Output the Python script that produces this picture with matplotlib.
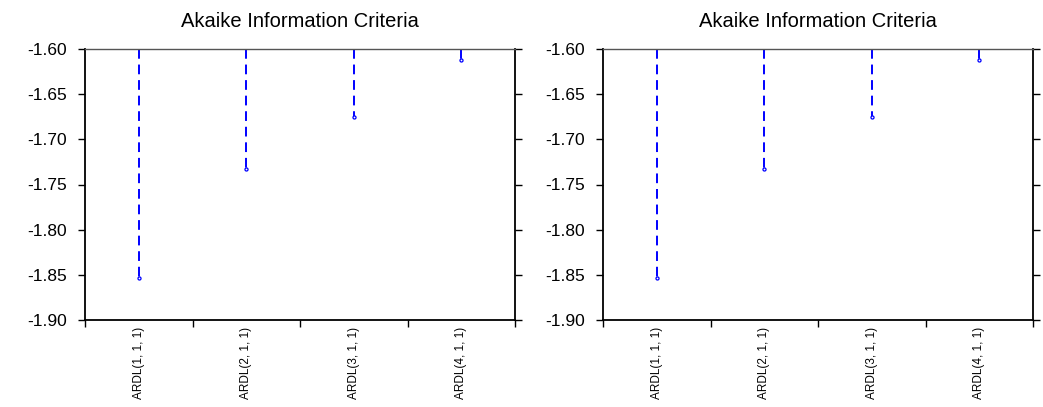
import numpy as np
import matplotlib
matplotlib.use("Agg")
import matplotlib.pyplot as plt

plt.rcParams['font.family'] = ['Liberation Sans', 'DejaVu Sans']

# data
models = ["ARDL(1, 1, 1)", "ARDL(2, 1, 1)", "ARDL(3, 1, 1)", "ARDL(4, 1, 1)"]
aic = [-1.8535, -1.7330, -1.6755, -1.6122]
yticks = [-1.60, -1.65, -1.70, -1.75, -1.80, -1.85, -1.90]

fig = plt.figure(figsize=(10.43, 4.07), dpi=100)
lefts = [85 / 1043, 603 / 1043]

for lft in lefts:
    ax = fig.add_axes([lft, 87 / 407, 430 / 1043, 271 / 407])
    x = np.arange(len(models))
    ax.vlines(x, -1.60, aic, colors="#0000ff", linestyles=(0, (5, 3)), linewidth=1.4)
    ax.plot(x, aic, linestyle="none", marker="o", markersize=2.2,
            markerfacecolor="white", markeredgecolor="#0000ff", markeredgewidth=0.9)
    ax.set_xlim(-0.5, len(models) - 0.5)
    ax.set_ylim(-1.90, -1.60)
    ax.set_yticks(yticks)
    ax.set_yticklabels([f"{v:.2f}" for v in yticks], fontsize=12.5)
    # category labels between boundary ticks
    ax.set_xticks(np.arange(-0.5, len(models), 1.0))
    ax.set_xticklabels([])
    ax.set_xticks(x, minor=True)
    ax.set_xticklabels(models, minor=True, rotation=90, fontsize=8.5,
                       fontstretch="condensed")
    ax.tick_params(axis="x", which="minor", length=0, pad=5)
    ax.tick_params(axis="x", which="major", length=5, width=1, direction="out")
    ax.tick_params(axis="y", which="major", length=5, width=1, direction="out",
                   left=True, right=True, pad=8)
    for s in ["left", "bottom", "right"]:
        ax.spines[s].set_linewidth(1.3)
        ax.spines[s].set_color("black")
    ax.spines["top"].set_color("#555555")
    ax.spines["top"].set_linewidth(1.0)
    ax.set_title("Akaike Information Criteria", fontsize=14.5, pad=16)

fig.savefig("out.png", dpi=100)
